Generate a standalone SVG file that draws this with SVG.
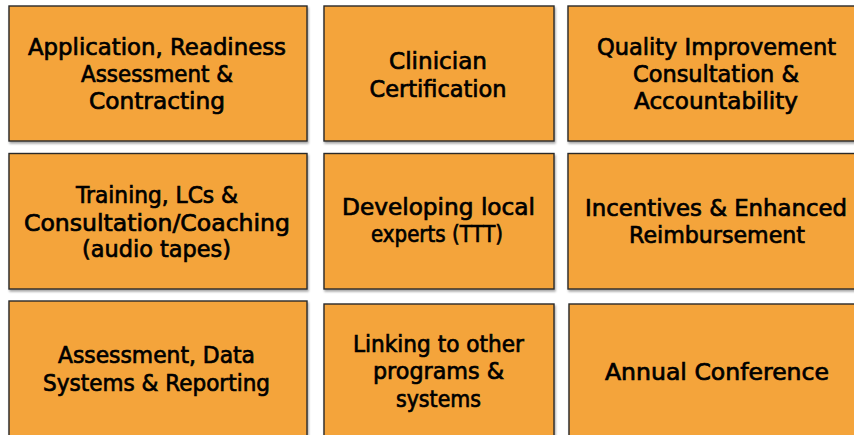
<svg xmlns="http://www.w3.org/2000/svg" width="854" height="435" viewBox="0 0 854 435">
<defs>
<filter id="sh" x="-5%" y="-5%" width="110%" height="115%">
<feDropShadow dx="1" dy="2" stdDeviation="1.2" flood-color="#000" flood-opacity="0.35"/>
</filter>
</defs>
<style>
.box{fill:#F4A43A;stroke:#2a2a2a;stroke-width:1.4;filter:url(#sh)}
.t{font-family:"DejaVu Sans","Liberation Sans",sans-serif;font-size:22.5px;fill:#000;stroke:#000;stroke-width:0.7;text-anchor:middle}
</style>
<rect width="854" height="435" fill="#ffffff"/>
<g id="n1"><rect class="box" x="9" y="6" width="298" height="135"/>
<text class="t" x="157" y="55" textLength="258" lengthAdjust="spacingAndGlyphs">Application, Readiness</text>
<text class="t" x="157" y="82" textLength="152" lengthAdjust="spacingAndGlyphs">Assessment &amp;</text>
<text class="t" x="157" y="109" textLength="136" lengthAdjust="spacingAndGlyphs">Contracting</text></g>
<g id="n2"><rect class="box" x="324" y="6" width="230" height="135"/>
<text class="t" x="438" y="69" textLength="98" lengthAdjust="spacingAndGlyphs">Clinician</text>
<text class="t" x="438" y="96.5" textLength="137" lengthAdjust="spacingAndGlyphs">Certification</text></g>
<g id="n3"><rect class="box" x="568" y="6" width="298" height="135"/>
<text class="t" x="716.5" y="55" textLength="239" lengthAdjust="spacingAndGlyphs">Quality Improvement</text>
<text class="t" x="716" y="82" textLength="166" lengthAdjust="spacingAndGlyphs">Consultation &amp;</text>
<text class="t" x="716" y="108.5" textLength="164" lengthAdjust="spacingAndGlyphs">Accountability</text></g>
<g id="n4"><rect class="box" x="9" y="153.5" width="298" height="135.5"/>
<text class="t" x="157" y="202.5" textLength="162" lengthAdjust="spacingAndGlyphs">Training, LCs &amp;</text>
<text class="t" x="157" y="230.5" textLength="266" lengthAdjust="spacingAndGlyphs">Consultation/Coaching</text>
<text class="t" x="156.5" y="257" textLength="149" lengthAdjust="spacingAndGlyphs">(audio tapes)</text></g>
<g id="n5"><rect class="box" x="324" y="153.5" width="230" height="135.5"/>
<text class="t" x="438.5" y="215" textLength="193" lengthAdjust="spacingAndGlyphs">Developing local</text>
<text class="t" x="437" y="241.5" textLength="132" lengthAdjust="spacingAndGlyphs">experts (TTT)</text></g>
<g id="n6"><rect class="box" x="568" y="153.5" width="298" height="135.5"/>
<text class="t" x="716" y="216" textLength="262" lengthAdjust="spacingAndGlyphs">Incentives &amp; Enhanced</text>
<text class="t" x="717" y="243" textLength="176" lengthAdjust="spacingAndGlyphs">Reimbursement</text></g>
<g id="n7"><rect class="box" x="9" y="301" width="298" height="145"/>
<text class="t" x="156.5" y="362.5" textLength="197" lengthAdjust="spacingAndGlyphs">Assessment, Data</text>
<text class="t" x="156.5" y="390.5" textLength="227" lengthAdjust="spacingAndGlyphs">Systems &amp; Reporting</text></g>
<g id="n8"><rect class="box" x="324" y="304" width="230" height="145"/>
<text class="t" x="438.5" y="351.5" textLength="171" lengthAdjust="spacingAndGlyphs">Linking to other</text>
<text class="t" x="438.5" y="379" textLength="131" lengthAdjust="spacingAndGlyphs">programs &amp;</text>
<text class="t" x="438.5" y="406.5" textLength="85" lengthAdjust="spacingAndGlyphs">systems</text></g>
<g id="n9"><rect class="box" x="569" y="304" width="298" height="145"/>
<text class="t" x="717" y="380" textLength="224" lengthAdjust="spacingAndGlyphs">Annual Conference</text></g>
<g id="connectors"></g>
</svg>
